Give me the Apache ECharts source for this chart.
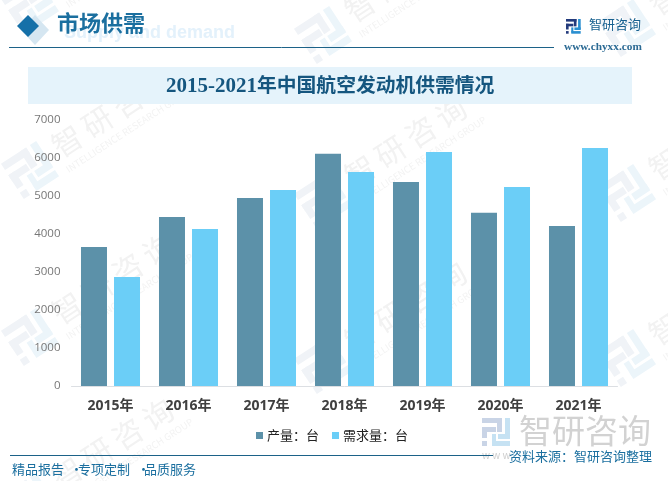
<!DOCTYPE html>
<html>
<head>
<meta charset="utf-8">
<style>
  html, body { margin: 0; padding: 0; background: #fff; }
  #chart { width: 668px; height: 481px; }
</style>
<script src="https://cdn.jsdelivr.net/npm/echarts@6/dist/echarts.min.js"></script>
</head>
<body>
<div id="chart"></div>
<script>
const years = ['2015年', '2016年', '2017年', '2018年', '2019年', '2020年', '2021年'];
const supply = [3660, 4450, 4950, 6110, 5370, 4560, 4210];
const demand = [2870, 4130, 5160, 5630, 6160, 5240, 6260];

const cjk = '"Noto Sans CJK SC", sans-serif';
const serif = '"Liberation Serif", "Noto Sans CJK SC", serif';
const footColor = '#1b6f9f';

// little logo made of blocks, used in the header and in the watermarks
function logo(x, y, s, c1, c2) {
  const r = (a, b, w, h, fill) => ({
    type: 'rect', silent: true,
    shape: { x: x + a * s, y: y + b * s, width: w * s, height: h * s },
    style: { fill: fill }
  });
  return [
    r(0, 0, 10, 2.5, c1), r(7.5, 0, 2.5, 7, c1), r(0, 4.5, 7, 2.5, c1),
    r(0, 4.5, 2.5, 5.5, c1), r(0, 11.5, 2.5, 2.5, c1),
    r(11.5, 0, 2.5, 10, c2), r(8, 8, 6, 2.5, c2), r(5, 11.5, 9, 2.5, c2), r(5, 8, 2, 5, c2)
  ];
}

// one tilted watermark tile, x/y is the centre of its logo
function mark(x, y) {
  const chars = '智研咨询'.split('').map((c, i) => ({
    type: 'text', silent: true,
    style: { x: 47 + i * 36, y: -4, text: c, fill: '#f2f2f2', align: 'center', verticalAlign: 'middle', font: '30px ' + cjk }
  }));
  return {
    type: 'group', x: x, y: y, rotation: 33 * Math.PI / 180, silent: true,
    children: logo(-21, -21, 3, '#f0f3f7', '#ecf5fa').concat(chars, [
      { type: 'text', silent: true, style: { x: 31, y: 20, text: 'INTELLIGENCE RESEARCH GROUP', fill: '#f3f3f3', verticalAlign: 'middle', font: '9.5px ' + cjk } }
    ])
  };
}

function footText(x, y, text) {
  return { type: 'text', silent: true, style: { x: x, y: y, text: text, fill: footColor, font: '13px ' + cjk } };
}

const marks = [
  [30, 5], [30, 170], [30, 337], [30, 502],
  [323, 35], [323, 200], [323, 365],
  [627, 28], [627, 193], [627, 358]
].map(p => mark(p[0], p[1]));

const chart = echarts.init(document.getElementById('chart'));
chart.setOption({
  animation: false,
  backgroundColor: '#fff',
  grid: { left: 71.5, right: 50.5, top: 120, bottom: 95 },
  legend: {
    left: 251, top: 424, itemWidth: 7, itemHeight: 7, itemGap: 13, icon: 'rect',
    textStyle: { color: '#222', fontSize: 13, fontFamily: cjk, padding: [0, 0, 0, -1] },
    data: ['产量：台', '需求量：台']
  },
  xAxis: {
    type: 'category', data: years,
    axisLine: { lineStyle: { color: '#dcdfe3', width: 1 } },
    axisTick: { show: false },
    axisLabel: { color: '#404040', fontSize: 14, fontWeight: 'bold', margin: 13, fontFamily: '"Open Sans", ' + cjk }
  },
  yAxis: {
    type: 'value', min: 0, max: 7000, interval: 1000,
    axisLine: { show: false }, axisTick: { show: false }, splitLine: { show: false },
    axisLabel: {
      color: '#777', fontSize: 11.5, margin: 11, padding: [6, 0, 0, 0], fontFamily: '"Open Sans", sans-serif',
      formatter: v => String(v)
    }
  },
  series: [
    { name: '产量：台', type: 'bar', data: supply, barWidth: 26, barGap: '27%', itemStyle: { color: '#5c91a9' } },
    { name: '需求量：台', type: 'bar', data: demand, barWidth: 26, itemStyle: { color: '#6bcef7' } }
  ],
  graphic: marks.concat([
    // big watermark, bottom right
    ...logo(482, 418, 2, '#c9d4e6', '#c6e2f3'),
    { type: 'text', silent: true, style: { x: 519, y: 414, text: '智研咨询', fill: '#d2d2d2', font: '33px ' + cjk } },
    { type: 'text', silent: true, style: { x: 482, y: 450, text: 'w w w', fill: '#cfcfcf', font: '10px ' + cjk } },

    // header
    { type: 'rect', silent: true, shape: { x: 28, y: 67, width: 604, height: 37 }, style: { fill: '#e5f3fb' } },
    { type: 'polygon', silent: true, shape: { points: [[35, 15], [49, 30], [35, 45], [21, 30]] }, style: { fill: '#d5e6f1' } },
    { type: 'polygon', silent: true, shape: { points: [[28, 15], [39, 26], [28, 37], [17, 26]] }, style: { fill: '#1570a8' } },
    { type: 'text', silent: true, style: { x: 64, y: 24, text: 'Supply and demand', fill: '#e3f1fb', font: 'bold 18px "Liberation Sans", sans-serif' } },
    { type: 'text', silent: true, style: { x: 57, y: 14, text: '市场供需', fill: '#1b6f9f', font: 'bold 22px ' + serif } },
    { type: 'line', silent: true, shape: { x1: 9, y1: 47.5, x2: 554, y2: 47.5 }, style: { stroke: '#1c6288', lineWidth: 1 } },
    ...logo(566, 19, 1.05, '#233a7c', '#2a8fd0'),
    { type: 'text', silent: true, style: { x: 589, y: 18, text: '智研咨询', fill: '#17608f', font: '13px ' + cjk } },
    { type: 'text', silent: true, style: { x: 564, y: 41, text: 'www.chyxx.com', fill: '#2b6a94', font: 'bold 11.3px ' + serif } },
    // title, digits are set wider than the hanzi in the reference
    { type: 'text', silent: true, style: { x: 257, y: 87, text: '2015-2021', fill: '#15567f', align: 'right', verticalAlign: 'middle', font: 'bold 21px ' + serif } },
    { type: 'text', silent: true, style: { x: 257, y: 87, text: '年中国航空发动机供需情况', fill: '#15567f', align: 'left', verticalAlign: 'middle', font: 'bold 19.8px ' + serif } },

    // footer
    { type: 'line', silent: true, shape: { x1: 10, y1: 455.5, x2: 493, y2: 455.5 }, style: { stroke: '#1c6288', lineWidth: 1 } },
    footText(12, 463, '精品报告'),
    footText(70, 463, '·'),
    footText(78, 463, '专项定制'),
    footText(137, 463, '·'),
    footText(144, 463, '品质服务'),
    footText(509, 450, '资料来源：智研咨询整理')
  ])
});
</script>
</body>
</html>
